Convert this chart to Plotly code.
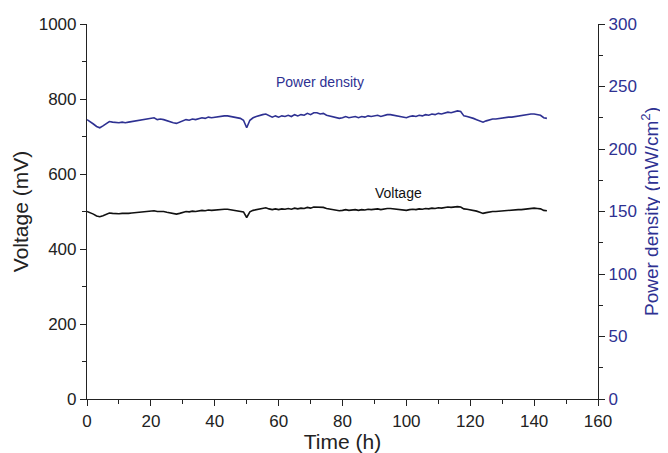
import plotly.graph_objects as go

time_h = list(range(0, 145))

voltage_mv = [
    500, 497, 493, 488, 486, 489, 493, 496, 495, 494,
    494, 495, 494, 495, 496, 497, 498, 499, 500, 501,
    501, 502, 500, 501, 500, 498, 497, 495, 493, 495,
    498, 500, 499, 501, 500, 502, 503, 502, 504, 503,
    504, 505, 505, 506, 506, 505, 504, 503, 502, 499,
    484, 499, 503, 505, 507, 508, 510, 507, 505, 507,
    505, 507, 506, 508, 506, 509, 507, 509, 508, 511,
    509, 512, 512, 510, 511, 508, 507, 505, 503, 502,
    503, 505, 503, 504, 505, 503, 505, 504, 506, 505,
    506, 507, 505, 507, 508, 508, 507, 506, 505, 504,
    503, 505, 506, 505, 507, 506, 508, 507, 509, 508,
    510, 509, 511, 512, 511, 513, 513, 512, 507, 506,
    505, 503, 501, 498, 495, 497, 499, 500, 500, 501,
    502, 502, 503, 503, 504, 505, 505, 506, 507, 508,
    509, 508, 507, 503, 502,
]

power_density = [
    223.5, 222, 220, 218, 217, 218.5, 220.5, 222, 221.5, 221,
    221, 221.5, 221, 221.5, 222, 222.5, 223, 223.5, 224, 224.5,
    224.5, 225, 223.5, 224, 223.5, 222.5, 222, 221, 220.5, 221.5,
    222.5, 223.5, 223, 224, 223.5, 224.5, 225, 224.5, 225.5, 225,
    225.5, 226, 226, 226.5, 226.5, 226, 225.5, 225, 224.5, 223,
    217, 223, 225, 226, 227, 227.5, 228, 226.5, 225.5, 226.5,
    225.5, 226.5, 226, 227, 226, 227.5, 226.5, 227.5, 227, 228.5,
    227.5, 229, 229, 228, 228.5, 227, 226.5, 225.5, 225, 224.5,
    225, 226, 225, 225.5, 226, 225, 226, 225.5, 226.5, 226,
    226.5, 227, 226, 227, 227.5, 227.5, 227, 226.5, 226, 225.5,
    225, 226, 226.5, 226, 227, 226.5, 227.5, 227, 228, 227.5,
    228.5, 228, 229, 229.5, 229, 230, 230.5, 230, 226.5, 226,
    225.5, 224.5, 223.5, 222.5, 221.5, 222.5, 223.5, 224, 224, 224.5,
    225, 225, 225.5, 225.5, 226, 226.5, 226.5, 227, 227.5, 228,
    228, 227.5, 227, 225, 224.5,
]

BLUE = "#2E3192"
FONT = "Liberation Sans, Arial, sans-serif"

fig = go.Figure()
fig.add_trace(go.Scatter(x=time_h, y=voltage_mv, mode="lines",
                         line=dict(color="#111111", width=1.6), name="Voltage"))
fig.add_trace(go.Scatter(x=time_h, y=power_density, mode="lines", yaxis="y2",
                         line=dict(color=BLUE, width=1.6), name="Power density"))

fig.add_annotation(x=73, y=845, text="Power density", showarrow=False,
                   font=dict(color=BLUE, size=14, family=FONT))
fig.add_annotation(x=97.5, y=549, text="Voltage", showarrow=False,
                   font=dict(color="#111111", size=14, family=FONT))

fig.update_layout(
    width=660, height=445,
    margin=dict(l=79, r=70, t=16, b=54),
    paper_bgcolor="white", plot_bgcolor="white",
    showlegend=False,
    font=dict(family=FONT, color="#222222", size=17),
    xaxis=dict(
        range=[0, 160], dtick=20, tick0=0, automargin=False,
        showline=True, linecolor="#222222", linewidth=1.2,
        ticks="outside", ticklen=6, tickcolor="#222222",
        minor=dict(dtick=10, ticks="outside", ticklen=4, tickcolor="#222222"),
        showgrid=False, zeroline=False,
        title=dict(text="Time (h)", font=dict(size=21), standoff=9),
        tickfont=dict(size=17),
    ),
    yaxis=dict(
        range=[0, 1000], dtick=200, tick0=0, automargin=False,
        showline=True, linecolor="#222222", linewidth=1.2,
        ticks="outside", ticklen=6, tickcolor="#222222",
        minor=dict(dtick=100, ticks="outside", ticklen=4, tickcolor="#222222"),
        showgrid=False, zeroline=False,
        title=dict(text="Voltage (mV)", font=dict(size=21), standoff=4),
        tickfont=dict(size=17),
    ),
    yaxis2=dict(
        range=[0, 300], dtick=50, tick0=0, overlaying="y", side="right",
        automargin=False,
        showline=True, linecolor="#222222", linewidth=1.2,
        ticks="outside", ticklen=6, tickcolor="#222222",
        minor=dict(dtick=25, ticks="outside", ticklen=4, tickcolor="#222222"),
        showgrid=False, zeroline=False,
        tickfont=dict(size=17, color=BLUE),
        title=dict(text="Power density (mW/cm<sup>2</sup>)",
                   font=dict(size=19, color=BLUE), standoff=8),
    ),
)

fig.write_html("out.html")
